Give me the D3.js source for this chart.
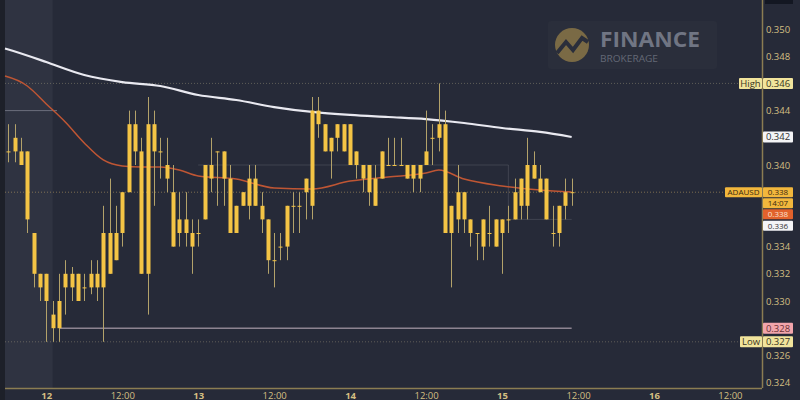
<!DOCTYPE html>
<html><head><meta charset="utf-8">
<script src="https://cdn.jsdelivr.net/npm/d3@7/dist/d3.min.js"></script>
<style>html,body{margin:0;padding:0;background:#262a38;}svg{display:block}</style>
</head><body>
<svg id="chart" width="800" height="400"></svg>
<script>
// ---------- DATA ----------
const firstCandle = new Date(2023, 5, 11, 18, 0); // hourly candles
const opens  = [0.341,0.341,0.341,0.341,0.335,0.332,0.332,0.328,0.328,0.331,0.332,0.332,0.331,0.331,0.332,0.331,0.332,0.335,0.335,0.338,0.343,0.341,0.332,0.343,0.341,0.340,0.338,0.335,0.336,0.335,0.335,0.336,0.340,0.341,0.341,0.339,0.335,0.337,0.337,0.339,0.337,0.336,0.333,0.334,0.334,0.337,0.337,0.338,0.337,0.344,0.343,0.341,0.342,0.343,0.343,0.341,0.340,0.340,0.339,0.339,0.340,0.340,0.340,0.340,0.339,0.340,0.340,0.342,0.342,0.343,0.335,0.336,0.338,0.336,0.335,0.336,0.335,0.334,0.336,0.336,0.336,0.337,0.337,0.340,0.339,0.339,0.335,0.335,0.337,0.338];
const highs  = [0.343,0.343,0.342,0.341,0.335,0.332,0.332,0.330,0.332,0.333,0.3325,0.332,0.332,0.333,0.333,0.337,0.339,0.337,0.338,0.344,0.344,0.342,0.345,0.344,0.342,0.342,0.340,0.338,0.338,0.336,0.336,0.340,0.342,0.341,0.341,0.340,0.337,0.338,0.340,0.340,0.338,0.336,0.335,0.335,0.337,0.338,0.338,0.339,0.345,0.345,0.343,0.342,0.343,0.343,0.343,0.341,0.340,0.340,0.340,0.341,0.342,0.342,0.342,0.340,0.340,0.340,0.344,0.343,0.346,0.344,0.337,0.340,0.338,0.336,0.335,0.336,0.337,0.336,0.336,0.337,0.339,0.339,0.342,0.341,0.340,0.339,0.337,0.337,0.339,0.339];
const lows   = [0.3402,0.3402,0.340,0.335,0.331,0.330,0.327,0.327,0.327,0.329,0.330,0.330,0.330,0.3305,0.330,0.327,0.332,0.333,0.334,0.338,0.340,0.332,0.329,0.337,0.339,0.338,0.334,0.334,0.334,0.332,0.334,0.336,0.338,0.337,0.337,0.335,0.335,0.337,0.336,0.337,0.335,0.332,0.331,0.333,0.333,0.335,0.335,0.336,0.336,0.342,0.341,0.339,0.341,0.341,0.340,0.339,0.338,0.337,0.337,0.339,0.340,0.340,0.340,0.339,0.338,0.338,0.340,0.340,0.341,0.335,0.331,0.335,0.335,0.334,0.333,0.333,0.334,0.334,0.332,0.335,0.336,0.336,0.336,0.339,0.338,0.336,0.334,0.334,0.336,0.337];
const closes = [0.341,0.342,0.340,0.336,0.332,0.331,0.330,0.329,0.330,0.332,0.331,0.330,0.331,0.332,0.331,0.335,0.335,0.333,0.338,0.343,0.341,0.332,0.343,0.341,0.341,0.339,0.334,0.336,0.335,0.334,0.335,0.340,0.339,0.341,0.339,0.335,0.337,0.338,0.339,0.337,0.336,0.333,0.333,0.334,0.337,0.337,0.337,0.339,0.344,0.343,0.341,0.342,0.343,0.341,0.340,0.340,0.339,0.338,0.337,0.341,0.340,0.340,0.340,0.339,0.340,0.339,0.341,0.342,0.343,0.335,0.337,0.338,0.336,0.335,0.335,0.334,0.335,0.336,0.335,0.336,0.338,0.339,0.340,0.339,0.338,0.336,0.335,0.337,0.338,0.338];

// moving averages read at candle indices
const maSlowIdx = [0,6,12,18,24,30,36,42,48,54,60,66,72,78,84,89];
const maSlow    = [0.34857,0.34757,0.34662,0.3461,0.34581,0.34515,0.34478,0.34426,0.3439,0.34368,0.34353,0.34338,0.34309,0.34272,0.34243,0.34206];
const maFastIdx = [0,3,6,9,12,15,18,21,24,27,30,36,42,48,54,60,66,68,72,78,84,89];
const maFast    = [0.34654,0.34581,0.34449,0.34316,0.34162,0.34037,0.33993,0.33985,0.33985,0.33963,0.33919,0.33897,0.33831,0.33824,0.33882,0.33912,0.33941,0.33963,0.33897,0.33846,0.33816,0.33801];

const yTicks = [0.324,0.326,0.328,0.330,0.332,0.334,0.336,0.338,0.340,0.342,0.344,0.346,0.348,0.350];
const xTickTimes = [0,12,24,36,48,60,72,84,96,108].map(h => new Date(2023,5,12,h));
const symbol = "ADAUSD";
const countdown = "14:07";
const lowLineLevel = 0.328;
const extraLevel = 0.336;

// ---------- LAYOUT ----------
const svg = d3.select("#chart");
const W = 800, H = 400;
const plotL = 5, plotR = 762, plotB = 388;
const bg = "#262a38";
const tan = "#d3bf82";

const x = d3.scaleTime()
  .domain([new Date(2023,5,12,0), new Date(2023,5,16,12)])
  .range([46.3, 729.9]);
const y = d3.scaleLinear().domain([0.324, 0.350]).range([382.6, 29]);
const tOf = i => new Date(firstCandle.getTime() + i*3600e3);

svg.append("rect").attr("width",W).attr("height",H).attr("fill",bg);
svg.append("rect").attr("x",0).attr("y",0).attr("width",plotL).attr("height",H).attr("fill","#1d2029");
// session shading
svg.append("rect").attr("x",plotL).attr("y",0).attr("width",x(new Date(2023,5,12,1.7))-plotL).attr("height",plotB)
  .attr("fill","#2f3341");

// watermark
const wm = svg.append("g");
wm.append("rect").attr("x",548).attr("y",21).attr("width",169).attr("height",48).attr("rx",3).attr("fill","#2a2e3b");
wm.append("circle").attr("cx",572).attr("cy",45).attr("r",17).attr("fill","#7a6a45");
wm.append("path").attr("d","M557,53 L566,42 L573,50 L582,38 L588,42").attr("fill","none").attr("stroke","#2a2e3b").attr("stroke-width",4);
wm.append("text").attr("x",600).attr("y",47).attr("font-family","Open Sans").attr("font-weight",700)
  .attr("font-size",22).attr("textLength",100).attr("lengthAdjust","spacingAndGlyphs").attr("fill","#707583").text("FINANCE");
wm.append("text").attr("x",600).attr("y",62).attr("font-family","Open Sans").attr("font-size",8.5)
  .attr("textLength",58).attr("lengthAdjust","spacingAndGlyphs").attr("fill","#646976").text("BROKERAGE");

// faint reference lines
const hi = d3.max(highs), lo = d3.min(lows), last = closes[closes.length-1];
const dash = (v, col) => svg.append("line").attr("x1",plotL).attr("x2",plotR).attr("y1",y(v)).attr("y2",y(v))
  .attr("stroke",col).attr("stroke-width",1).attr("stroke-dasharray","1,2");
dash(hi, "rgba(200,190,150,0.35)");
dash(lo, "rgba(200,190,150,0.35)");
dash(last, "rgba(230,190,110,0.45)");
svg.append("line").attr("x1",plotL).attr("x2",57).attr("y1",y(0.344)).attr("y2",y(0.344)).attr("stroke","#6c6f7c").attr("stroke-width",1);
svg.append("path").attr("d",`M${x(tOf(30))},${y(0.340)} H${x(tOf(79))} V${y(0.336)} H${x(tOf(89))}`)
  .attr("fill","none").attr("stroke","rgba(255,255,255,0.12)").attr("stroke-width",1);
// low level line
svg.append("line").attr("x1",x(tOf(8))).attr("x2",x(tOf(89))).attr("y1",y(lowLineLevel)).attr("y2",y(lowLineLevel))
  .attr("stroke","#8d8491").attr("stroke-width",1.5);

// moving averages
const line = d3.line().x(d=>x(tOf(d[0]))).y(d=>y(d[1])).curve(d3.curveMonotoneX);
svg.append("path").datum(maFastIdx.map((i,k)=>[i,maFast[k]])).attr("d", d => line(d).replace(/^M[^,]+/, "M"+plotL))
  .attr("fill","none").attr("stroke","#bf5634").attr("stroke-width",1.5);
svg.append("path").datum(maSlowIdx.map((i,k)=>[i,maSlow[k]])).attr("d", d => line(d).replace(/^M[^,]+/, "M"+plotL))
  .attr("fill","none").attr("stroke","#e9e9f0").attr("stroke-width",2.2);

// candles
const candles = opens.map((o,i)=>({i, o, h:highs[i], l:lows[i], c:closes[i]}));
const cg = svg.append("g");
cg.selectAll("line.w").data(candles).join("line").attr("class","w")
  .attr("x1",d=>Math.round(x(tOf(d.i)))+0.5).attr("x2",d=>Math.round(x(tOf(d.i)))+0.5)
  .attr("y1",d=>y(d.h)).attr("y2",d=>y(d.l)).attr("stroke","#b3a26a").attr("stroke-width",1);
cg.selectAll("rect.b").data(candles).join("rect").attr("class","b")
  .attr("x",d=>Math.round(x(tOf(d.i)))-1.5).attr("width",4)
  .attr("y",d=>y(Math.max(d.o,d.c)))
  .attr("height",d=>Math.max(1, y(Math.min(d.o,d.c))-y(Math.max(d.o,d.c))))
  .attr("fill","#f4c445");

// axes frame
svg.append("line").attr("x1",plotL).attr("x2",plotR).attr("y1",plotB+0.5).attr("y2",plotB+0.5).attr("stroke","#8b7d52").attr("stroke-width",1.5);
svg.append("line").attr("x1",plotR+0.5).attr("x2",plotR+0.5).attr("y1",0).attr("y2",plotB).attr("stroke","#8b7d52").attr("stroke-width",1.5);

// right side label boxes (positions)
const f3 = d3.format(".3f");
const boxes = [
  {x0:739, yc:y(hi), w:23, bg:"#f1e49c", t:"High", c:"#3a3522"},
  {x0:763, yc:y(hi), w:30, bg:"#f1e49c", t:f3(hi), c:"#3a3522"},
  {x0:763, yc:y(maSlow[maSlow.length-1]), w:30, bg:"#f4f4f6", t:f3(maSlow[maSlow.length-1]), c:"#333"},
  {x0:725, yc:y(last), w:37, bg:"#f2b73c", t:symbol, c:"#3a2a10", fs:8},
  {x0:763, yc:y(last), w:30, bg:"#f2b73c", t:f3(last), c:"#3a2a10", fs:8},
  {x0:763, yc:y(last)+11, w:30, bg:"#f2b73c", t:countdown, c:"#3a2a10", fs:8},
  {x0:763, yc:y(last)+22, w:30, bg:"#e2622c", t:f3(maFast[maFast.length-1]), c:"#fbe0d0", fs:8},
  {x0:763, yc:y(last)+33.5, w:30, bg:"#f4f4f6", t:f3(extraLevel), c:"#333", fs:8},
  {x0:763, yc:y(lowLineLevel), w:30, bg:"#f2a5ab", t:f3(lowLineLevel), c:"#6a3035"},
  {x0:740, yc:y(lo), w:22, bg:"#f1e49c", t:"Low", c:"#3a3522"},
  {x0:763, yc:y(lo), w:30, bg:"#f1e49c", t:f3(lo), c:"#3a3522"}
];
const axisBoxes = boxes.filter(b => b.x0 >= 763);

// y axis (tick labels hidden where a label box covers them)
const visTicks = yTicks.filter(v => !axisBoxes.some(b => Math.abs(b.yc - y(v)) < 9));
const yAxis = d3.axisRight(y).tickValues(visTicks).tickSize(0).tickPadding(0).tickFormat(d3.format(".3f"));
const ya = svg.append("g").attr("transform",`translate(778,0)`).call(yAxis);
ya.select(".domain").remove();
ya.selectAll("text").attr("text-anchor","middle").attr("x",0).attr("fill",tan)
  .attr("font-family","Open Sans").attr("font-size",9.5);

// x axis
const fmt = d => d.getHours()===0 ? String(d.getDate()) : "12:00";
const xAxis = d3.axisBottom(x).tickValues(xTickTimes).tickSize(0).tickPadding(0).tickFormat(fmt);
const xa = svg.append("g").attr("transform",`translate(0,${plotB})`).call(xAxis);
xa.select(".domain").remove();
xa.selectAll("text").attr("dy",0).attr("y",10.5).attr("fill",tan).attr("font-family","Open Sans")
  .attr("font-size",9.5).attr("font-weight",d=>d.getHours()===0?700:400);

svg.append("rect").attr("x",765).attr("y",-6).attr("width",28).attr("height",10).attr("fill","#131722");
const bg2 = svg.append("g").selectAll("g").data(boxes).join("g");
bg2.append("rect").attr("x",b=>b.x0).attr("y",b=>b.yc-(b.fs?5:5.5)).attr("width",b=>b.w)
  .attr("height",b=>b.fs?10:11).attr("rx",1).attr("fill",b=>b.bg);
bg2.append("text").attr("x",b=>b.x0+b.w/2).attr("y",b=>b.yc).attr("dy","0.35em").attr("text-anchor","middle")
  .attr("font-family","Open Sans").attr("font-size",b=>b.fs||9.5).attr("fill",b=>b.c).text(b=>b.t);
</script>
</body></html>
